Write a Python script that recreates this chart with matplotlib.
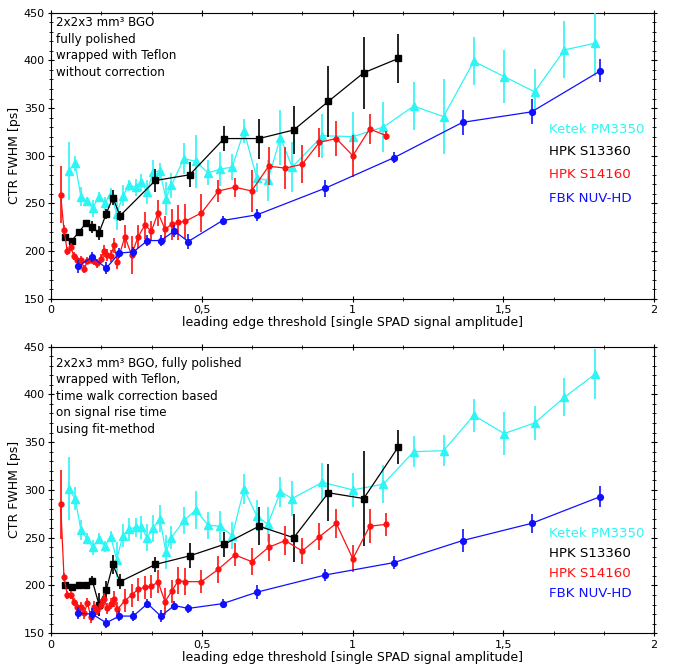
import numpy as np
import matplotlib
matplotlib.use('Agg')
from matplotlib import pyplot as plt
from matplotlib.ticker import AutoMinorLocator, FuncFormatter

plt.rcParams['font.family'] = ['DejaVu Sans']

# x positions (threshold in single SPAD amplitudes), shared by both panels
ketek_x = [0.058, 0.080, 0.099, 0.119, 0.138, 0.158, 0.178, 0.198, 0.218, 0.238,
           0.259, 0.281, 0.300, 0.318, 0.339, 0.361, 0.381, 0.399, 0.441, 0.480,
           0.521, 0.562, 0.601, 0.640, 0.682, 0.719, 0.761, 0.800, 0.900, 1.001,
           1.102, 1.203, 1.302, 1.402, 1.503, 1.604, 1.703, 1.804]
s13360_x = [0.047, 0.069, 0.093, 0.115, 0.137, 0.159, 0.183, 0.205, 0.229, 0.346,
            0.460, 0.574, 0.690, 0.805, 0.920, 1.037, 1.152]
s14160_x = [0.032, 0.043, 0.054, 0.065, 0.076, 0.087, 0.099, 0.110, 0.121, 0.132,
            0.143, 0.154, 0.165, 0.176, 0.187, 0.198, 0.209, 0.220, 0.245, 0.267,
            0.289, 0.311, 0.333, 0.355, 0.378, 0.400, 0.422, 0.444, 0.499, 0.555,
            0.610, 0.665, 0.722, 0.777, 0.833, 0.890, 0.946, 1.001, 1.057, 1.112]
nuvhd_x = [0.091, 0.137, 0.183, 0.227, 0.273, 0.320, 0.364, 0.409, 0.455, 0.569,
           0.683, 0.910, 1.138, 1.365, 1.594, 1.822]

# top panel: without correction
ketek_top = [284, 292, 257, 252, 245, 257, 250, 260, 239, 258, 269, 267, 272, 262,
             283, 284, 255, 269, 297, 294, 282, 286, 288, 326, 277, 274, 319, 288,
             321, 320, 330, 352, 341, 399, 383, 367, 411, 418]
ketek_top_err = [30, 8, 10, 5, 9, 5, 7, 6, 17, 11, 6, 9, 9, 13, 12, 8, 17, 13, 16, 28,
                 13, 18, 14, 13, 15, 21, 29, 26, 23, 26, 26, 25, 39, 25, 28, 24, 30, 34]
s13360_top = [215, 211, 220, 229, 225, 219, 239, 256, 237, 274, 280, 318, 318, 327,
              357, 387, 402]
s13360_top_err = [3, 3, 3, 3, 6, 7, 5, 8, 5, 12, 13, 13, 21, 25, 37, 38, 26]
s14160_top = [259, 222, 200, 204, 195, 191, 191, 181, 190, 191, 190, 187, 192, 200,
              196, 195, 206, 189, 215, 196, 215, 227, 221, 240, 223, 228, 230, 231,
              240, 263, 267, 263, 289, 287, 291, 314, 318, 300, 328, 321]
s14160_top_err = [30, 5, 4, 4, 4, 4, 4, 4, 4, 4, 5, 5, 5, 6, 6, 6, 8, 8, 12, 20,
                  12, 14, 10, 14, 14, 16, 18, 18, 20, 12, 10, 22, 20, 22, 20, 15,
                  18, 22, 16, 5]
nuvhd_top = [184, 194, 182, 198, 199, 211, 211, 221, 210, 232, 238, 266, 298, 335,
             346, 389]
nuvhd_top_err = [7, 5, 6, 5, 5, 6, 6, 6, 8, 5, 6, 9, 6, 13, 13, 12]

# bottom panel: time walk correction
ketek_bot = [301, 291, 258, 249, 240, 249, 241, 251, 227, 252, 259, 261, 261, 250,
             260, 270, 235, 250, 268, 279, 263, 262, 252, 301, 273, 264, 298, 291,
             308, 300, 306, 340, 341, 378, 359, 370, 397, 421]
ketek_bot_err = [33, 12, 10, 6, 8, 6, 6, 6, 18, 12, 12, 10, 12, 14, 14, 14, 18, 12,
                 14, 20, 14, 16, 14, 16, 16, 18, 16, 18, 20, 18, 20, 16, 16, 17, 22,
                 18, 20, 26]
s13360_bot = [200, 198, 200, 201, 205, 180, 195, 222, 204, 222, 231, 243, 262, 250,
              297, 291, 345]
s13360_bot_err = [3, 3, 3, 3, 5, 12, 10, 10, 8, 8, 13, 13, 20, 25, 30, 50, 18]
s14160_bot = [285, 209, 190, 190, 183, 178, 178, 171, 182, 167, 178, 174, 180, 186,
              176, 181, 186, 175, 184, 190, 196, 198, 199, 204, 183, 194, 205, 204,
              204, 217, 232, 225, 240, 247, 236, 251, 265, 228, 262, 264]
s14160_bot_err = [36, 4, 4, 4, 4, 5, 5, 6, 5, 6, 6, 5, 6, 6, 6, 6, 8, 8, 12, 12,
                  12, 12, 12, 12, 14, 12, 14, 14, 12, 14, 12, 14, 14, 15, 14, 14,
                  15, 14, 18, 12]
nuvhd_bot = [171, 170, 161, 168, 168, 181, 168, 179, 176, 181, 193, 211, 224, 247,
             265, 293]
nuvhd_bot_err = [6, 6, 5, 5, 5, 5, 6, 5, 5, 5, 7, 6, 7, 12, 10, 11]

series_names = ['Ketek PM3350', 'HPK S13360', 'HPK S14160', 'FBK NUV-HD']
series_colors = ['#2ef5f5', 'black', '#ff1010', '#1010ff']

top_text = '2x2x3 mm\u00b3 BGO\nfully polished\nwrapped with Teflon\nwithout correction'
bot_text = ('2x2x3 mm\u00b3 BGO, fully polished\nwrapped with Teflon,\n'
            'time walk correction based\non signal rise time\nusing fit-method')

fig = plt.figure(figsize=(6.73, 6.69), dpi=100)
ax1 = fig.add_axes([0.0758, 0.5535, 0.896, 0.4275])
ax2 = fig.add_axes([0.0758, 0.0534, 0.896, 0.4286])

comma = FuncFormatter(lambda v, p: ('%g' % v).replace('.', ','))


def draw_panel(ax, data, note, note_y, leg_y):
    styles = [('^', 6.3), ('s', 4.5), ('o', 3.5), ('o', 4.2)]
    order = [3, 2, 1, 0]
    for i in order:
        x, y, e = data[i]
        ax.errorbar(x, y, yerr=e, color=series_colors[i], marker=styles[i][0],
                    markersize=styles[i][1], lw=0.9, elinewidth=1.2, capsize=0,
                    zorder=3 + i)
    ax.set_xlim(0, 2)
    ax.set_ylim(150, 450)
    ax.set_xticks([0, 0.5, 1, 1.5, 2])
    ax.set_yticks([150, 200, 250, 300, 350, 400, 450])
    ax.xaxis.set_major_formatter(comma)
    ax.xaxis.set_minor_locator(AutoMinorLocator(3))
    ax.yaxis.set_minor_locator(AutoMinorLocator(5))
    ax.tick_params(which='both', direction='inout', top=True, right=True,
                   labelsize=8, pad=2)
    ax.tick_params(which='major', length=5)
    ax.tick_params(which='minor', length=3)
    ax.set_xlabel('leading edge threshold [single SPAD signal amplitude]',
                  fontsize=9, labelpad=1)
    ax.set_ylabel('CTR FWHM [ps]', fontsize=9)
    ax.yaxis.set_label_coords(-0.049, 0.5)
    ax.text(0.008, note_y, note, transform=ax.transAxes, fontsize=8.6,
            va='top', ha='left', linespacing=1.35)
    for k in range(4):
        ax.text(1.653, leg_y[k], series_names[k], color=series_colors[k],
                fontsize=9.6, ha='left', va='center')


draw_panel(ax1,
           [(ketek_x, ketek_top, ketek_top_err),
            (s13360_x, s13360_top, s13360_top_err),
            (s14160_x, s14160_top, s14160_top_err),
            (nuvhd_x, nuvhd_top, nuvhd_top_err)],
           top_text, 0.988, [327, 304, 280, 255])
draw_panel(ax2,
           [(ketek_x, ketek_bot, ketek_bot_err),
            (s13360_x, s13360_bot, s13360_bot_err),
            (s14160_x, s14160_bot, s14160_bot_err),
            (nuvhd_x, nuvhd_bot, nuvhd_bot_err)],
           bot_text, 0.965, [254, 233, 213, 192])

fig.savefig('out.png', dpi=100)
